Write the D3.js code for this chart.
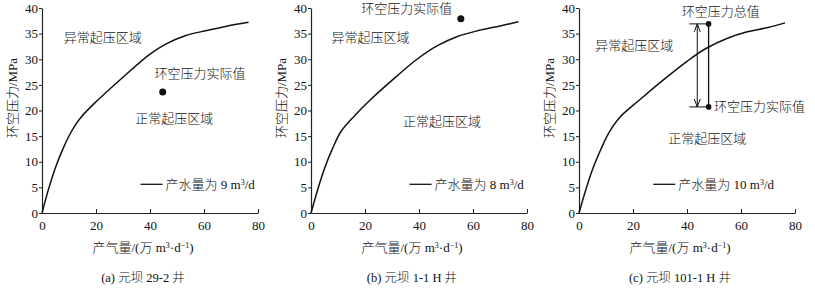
<!DOCTYPE html>
<html lang="zh">
<head>
<meta charset="UTF-8">
<title>环空压力</title>
<style>
  body { margin: 0; background: #fff; }
  text { font-family: "Liberation Serif", "Noto Sans CJK SC", serif; fill: #111; font-weight: 300; }
</style>
</head>
<body>
<svg width="815" height="296"></svg>
<script src="https://d3js.org/d3.v7.min.js"></script>
<script>

// curve data, gas output (10^4 m3/d) vs annulus pressure (MPa)
var gasA = [0, 2.5, 5, 8, 11, 14, 20, 30, 40, 46, 53, 61, 68, 76.5];
var presA = [0, 4.8, 8.9, 12.8, 16, 18.4, 21.7, 26.5, 31, 33, 34.6, 35.6, 36.4, 37.2];
var gasB = [0, 2.5, 5, 8, 11, 16, 22, 32, 39.5, 47, 54, 62, 70, 76.8];
var presB = [0, 4.6, 8.7, 12.6, 15.8, 18.9, 22.1, 26.8, 30.1, 32.7, 34.4, 35.6, 36.5, 37.3];
var gasC = [0, 2.5, 5, 8, 11, 15, 22.5, 32.5, 40, 47, 55, 62, 70, 76.3];
var presC = [0, 4.5, 8.5, 12.3, 15.6, 18.6, 22.1, 26.5, 29.6, 32.1, 34.1, 35.3, 36.2, 37.1];

// measured points
var actualA = [44.7, 23.6];
var actualB = [55.5, 37.9];
var actualC = [48, 20.7];
var totalC = [48, 36.9];

var waterRates = ["9", "8", "10"];
var captions = ["(a) 元坝 29-2 井", "(b) 元坝 1-1 H 井", "(c) 元坝 101-1 H 井"];
var xTicks = [0, 20, 40, 60, 80];
var yTicks = [0, 5, 10, 15, 20, 25, 30, 35, 40];

var svg = d3.select("svg");
var left = [42, 311, 579];
var plotW = 216;
var yBottom = 213, yTop = 8;

function drawPanel(i, gas, pres) {
    var x = d3.scaleLinear().domain([0, 80]).range([left[i], left[i] + plotW]);
    var y = d3.scaleLinear().domain([0, 40]).range([yBottom, yTop]);
    var g = svg.append("g");

    var xAxis = g.append("g").attr("transform", "translate(0," + yBottom + ")")
        .call(d3.axisBottom(x).tickValues(xTicks).tickSizeInner(-4).tickSizeOuter(0).tickPadding(8));
    var yAxis = g.append("g").attr("transform", "translate(" + left[i] + ",0)")
        .call(d3.axisLeft(y).tickValues(yTicks).tickSizeInner(3).tickSizeOuter(0).tickPadding(1));
    [xAxis, yAxis].forEach(function(a) {
        a.select(".domain").attr("stroke", "#222").attr("stroke-width", 1.2);
        a.selectAll(".tick line").attr("stroke", "#222").attr("stroke-width", 1);
        a.selectAll(".tick text").style("font-size", "13px")
            .style("font-family", "Liberation Serif").attr("fill", "#111");
    });

    var line = d3.line()
        .x(function(d) { return x(d[0]); })
        .y(function(d) { return y(d[1]); })
        .curve(d3.curveCatmullRom.alpha(0.5));
    g.append("path")
        .datum(d3.zip(gas, pres))
        .attr("d", line)
        .attr("fill", "none")
        .attr("stroke", "#111")
        .attr("stroke-width", 1.5);

    // axis titles
    g.append("text")
        .attr("transform", "translate(" + (left[i] - 25) + ",98) rotate(-90)")
        .attr("text-anchor", "middle")
        .style("font-size", "13px")
        .text("环空压力/MPa");
    var xt = g.append("text")
        .attr("x", left[i] + 101).attr("y", 252)
        .attr("text-anchor", "middle")
        .style("font-size", "13px");
    xt.append("tspan").text("产气量/(万 m");
    xt.append("tspan").attr("baseline-shift", "super").style("font-size", "8px").text("3");
    xt.append("tspan").text("·d");
    xt.append("tspan").attr("baseline-shift", "super").style("font-size", "8px").text("−1");
    xt.append("tspan").text(")");

    g.append("text")
        .attr("x", left[i] + 101).attr("y", 282)
        .attr("text-anchor", "middle")
        .style("font-size", "12.5px")
        .text(captions[i]);

    // legend
    var lx = i === 2 ? x(27.5) : x(36.5);
    g.append("line")
        .attr("x1", lx).attr("x2", lx + 22)
        .attr("y1", y(5.6)).attr("y2", y(5.6))
        .attr("stroke", "#111").attr("stroke-width", 1.3);
    var lt = g.append("text")
        .attr("x", lx + 25).attr("y", y(5.6) + 4.5)
        .style("font-size", "13px");
    lt.append("tspan").text("产水量为 " + waterRates[i] + " m");
    lt.append("tspan").attr("baseline-shift", "super").style("font-size", "8px").text("3");
    lt.append("tspan").text("/d");

    return {g: g, x: x, y: y};
}

function label(p, gx, py, txt, anchor) {
    p.g.append("text")
        .attr("x", p.x(gx)).attr("y", p.y(py))
        .attr("text-anchor", anchor || "middle")
        .attr("dy", "0.35em")
        .style("font-size", "13px")
        .text(txt);
}

function dot(p, pt, r) {
    p.g.append("circle")
        .attr("cx", p.x(pt[0])).attr("cy", p.y(pt[1]))
        .attr("r", r).attr("fill", "#111");
}

// (a)
var pa = drawPanel(0, gasA, presA);
label(pa, 22.5, 34.2, "异常起压区域");
label(pa, 49, 18.5, "正常起压区域");
label(pa, 58.5, 27.2, "环空压力实际值");
dot(pa, actualA, 3.5);

// (b)
var pb = drawPanel(1, gasB, presB);
label(pb, 22, 34.3, "异常起压区域");
label(pb, 48.5, 17.8, "正常起压区域");
label(pb, 35.5, 40, "环空压力实际值");
dot(pb, actualB, 3.5);

// (c)
var pc = drawPanel(2, gasC, presC);
label(pc, 20.5, 32.7, "异常起压区域");
label(pc, 47.5, 14.5, "正常起压区域");
label(pc, 52.5, 39.4, "环空压力总值");
label(pc, 50, actualC[1], "环空压力实际值", "start");

// vertical segment between total and actual values
pc.g.append("line")
    .attr("x1", pc.x(totalC[0])).attr("x2", pc.x(actualC[0]))
    .attr("y1", pc.y(totalC[1])).attr("y2", pc.y(actualC[1]))
    .attr("stroke", "#111").attr("stroke-width", 1.3);
dot(pc, totalC, 2.8);
dot(pc, actualC, 2.8);

// double-headed arrow with end bars
var ax = 43.8;
[totalC[1], actualC[1]].forEach(function(v) {
    pc.g.append("line")
        .attr("x1", pc.x(40.9)).attr("x2", pc.x(totalC[0]))
        .attr("y1", pc.y(v)).attr("y2", pc.y(v))
        .attr("stroke", "#111").attr("stroke-width", 1);
});
pc.g.append("line")
    .attr("x1", pc.x(ax)).attr("x2", pc.x(ax))
    .attr("y1", pc.y(totalC[1])).attr("y2", pc.y(actualC[1]))
    .attr("stroke", "#111").attr("stroke-width", 1);
[[totalC[1], 1], [actualC[1], -1]].forEach(function(e) {
    var tipY = pc.y(e[0]), tipX = pc.x(ax);
    pc.g.append("path")
        .attr("d", "M" + (tipX - 3) + "," + (tipY + e[1] * 8) + "L" + tipX + "," + tipY +
                   "L" + (tipX + 3) + "," + (tipY + e[1] * 8))
        .attr("fill", "none").attr("stroke", "#111").attr("stroke-width", 1);
});

</script>
</body>
</html>
